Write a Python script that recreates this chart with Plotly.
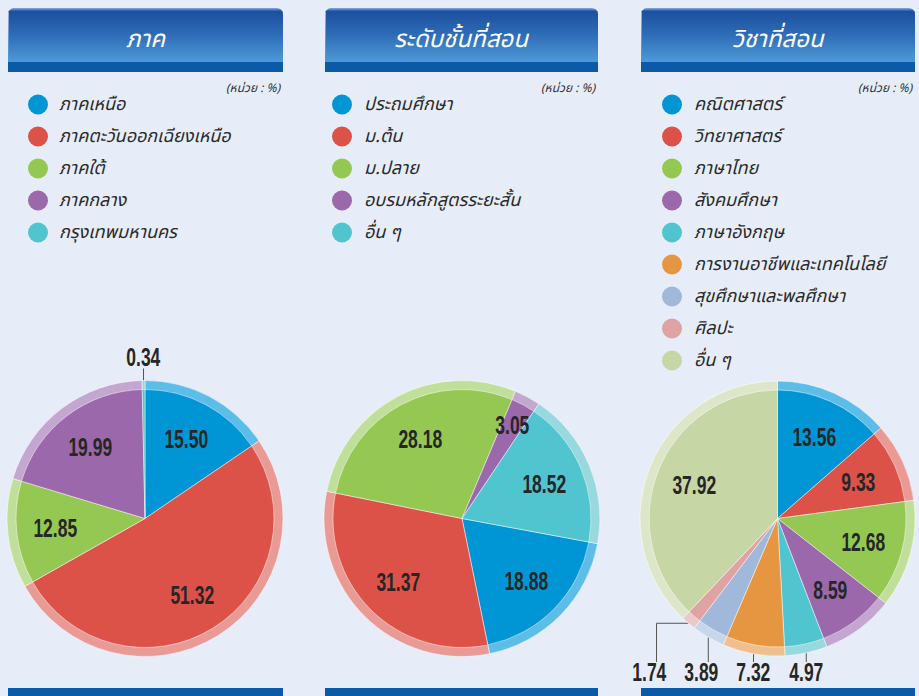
import math
import plotly.graph_objects as go

W, H = 919, 696

# ---------------- data ----------------
titles = ["ภาค", "ระดับชั้นที่สอน", "วิชาที่สอน"]
unit_label = "(หน่วย : %)"

region_labels = ["ภาคเหนือ", "ภาคตะวันออกเฉียงเหนือ", "ภาคใต้", "ภาคกลาง", "กรุงเทพมหานคร"]
region_values = [15.50, 51.32, 12.85, 19.99, 0.34]

level_labels = ["ประถมศึกษา", "ม.ต้น", "ม.ปลาย", "อบรมหลักสูตรระยะสั้น", "อื่น ๆ"]
level_values = [18.88, 31.37, 28.18, 3.05, 18.52]

subject_labels = ["คณิตศาสตร์", "วิทยาศาสตร์", "ภาษาไทย", "สังคมศึกษา", "ภาษาอังกฤษ",
                  "การงานอาชีพและเทคโนโลยี", "สุขศึกษาและพลศึกษา", "ศิลปะ", "อื่น ๆ"]
subject_values = [13.56, 9.33, 12.68, 8.59, 4.97, 7.32, 3.89, 1.74, 37.92]

# ---------------- styles ----------------
base_colors = ["#0096d6", "#dd5248", "#95c852", "#9b68ab", "#50c4cf",
               "#e69640", "#a0b8d9", "#dfa3a3", "#c6d6a4"]
ring_colors = ["#5dbde9", "#e99a95", "#bfdf9b", "#c3a7d0", "#98d8df",
               "#f0c08c", "#c7d6eb", "#ecc9c9", "#dde6c9"]
BG = "#e7edf8"
THAI_FONT = "Noto Sans Thai, Noto Sans Thai UI, Loma, Garuda, Noto Sans, sans-serif"
NUM_FONT = "Liberation Sans, Arial, sans-serif"
NUM_SIZE = 25

panels = [
    dict(title=titles[0], labels=region_labels, values=region_values,
         x0=8, x1=283, cx=145, cy=518.5, r=138, rot=0, dotx=38, textx=57, outside_below=1.0),
    dict(title=titles[1], labels=level_labels, values=level_values,
         x0=325, x1=598, cx=462, cy=518.5, r=138, rot=100.5, dotx=342, textx=362, outside_below=0.0),
    dict(title=titles[2], labels=subject_labels, values=subject_values,
         x0=641, x1=915, cx=777.5, cy=518.5, r=137.5, rot=0, dotx=672, textx=692, outside_below=7.5),
]

fig = go.Figure()
annotations = []
shapes = []


def header_path(x0, x1, y0, y1, rad):
    xs, ys = [x0], [y1]
    for k in range(0, 11):
        a = math.pi + k * (math.pi / 2) / 10
        xs.append(x0 + rad + rad * math.cos(a))
        ys.append(y0 + rad + rad * math.sin(a))
    for k in range(0, 11):
        a = 1.5 * math.pi + k * (math.pi / 2) / 10
        xs.append(x1 - rad + rad * math.cos(a))
        ys.append(y0 + rad + rad * math.sin(a))
    xs += [x1, x0]
    ys += [y1, y1]
    return xs, ys


def dom(cx, cy, r):
    return dict(x=[(cx - r) / W, (cx + r) / W], y=[1 - (cy + r) / H, 1 - (cy - r) / H])


num_font = dict(family=NUM_FONT, size=NUM_SIZE, color="#262626", weight="bold")

for p in panels:
    n = len(p["values"])
    # header banner with gradient
    hx, hy = header_path(p["x0"], p["x1"], 8, 63, 6)
    fig.add_trace(go.Scatter(
        x=hx, y=hy, mode="lines", fill="toself", line=dict(width=0),
        fillgradient=dict(type="vertical", start=8, stop=63,
                          colorscale=[[0, "#86ade0"], [0.06, "#1c4f9f"], [0.5, "#2f6db8"], [1, "#4e9cd8"]]),
        hoverinfo="skip", showlegend=False, xaxis="x", yaxis="y"))
    shapes.append(dict(type="rect", xref="x", yref="y", x0=p["x0"], x1=p["x1"], y0=62, y1=72,
                       fillcolor="#0a5aa8", line=dict(width=0), layer="above"))
    shapes.append(dict(type="rect", xref="x", yref="y", x0=p["x0"], x1=p["x1"], y0=688, y1=700,
                       fillcolor="#0a5aa8", line=dict(width=0), layer="above"))
    annotations.append(dict(x=(p["x0"] + p["x1"]) / 2, y=40, xref="x", yref="y", text=p["title"],
                            showarrow=False, font=dict(family=THAI_FONT, size=24, color="white", style="italic"),
                            xanchor="center", yanchor="middle"))
    annotations.append(dict(x=p["x1"], y=88, xref="x", yref="y", text=unit_label, showarrow=False,
                            font=dict(family=THAI_FONT, size=12, color="#333333", style="italic"),
                            xanchor="right", yanchor="middle"))
    # legend
    ly = [104.5 + 32 * i for i in range(n)]
    fig.add_trace(go.Scatter(x=[p["dotx"]] * n, y=ly, mode="markers",
                             marker=dict(size=20, color=base_colors[:n], line=dict(width=0)),
                             hoverinfo="skip", showlegend=False, xaxis="x", yaxis="y"))
    for i, lab in enumerate(p["labels"]):
        annotations.append(dict(x=p["textx"], y=ly[i], xref="x", yref="y", text=lab, showarrow=False,
                                font=dict(family=THAI_FONT, size=18, color="#2b2b2b", style="italic"),
                                xanchor="left", yanchor="middle"))
    # pies: lighter outer ring + main pie
    fig.add_trace(go.Pie(values=p["values"], labels=p["labels"], sort=False, direction="clockwise",
                         rotation=p["rot"], textinfo="none", hoverinfo="skip", showlegend=False,
                         marker=dict(colors=ring_colors[:n], line=dict(width=0.8, color="rgba(255,255,255,0.6)")),
                         domain=dom(p["cx"], p["cy"], p["r"])))
    fig.add_trace(go.Pie(values=p["values"], labels=p["labels"], sort=False, direction="clockwise",
                         rotation=p["rot"], textinfo="none", hoverinfo="label+value", showlegend=False,
                         marker=dict(colors=base_colors[:n], line=dict(width=0.8, color="rgba(255,255,255,0.6)")),
                         domain=dom(p["cx"], p["cy"], p["r"] - 9)))
    # value labels
    total = sum(p["values"])
    cum = 0.0
    outside = []
    for i, v in enumerate(p["values"]):
        mid = math.radians(p["rot"] + (cum + v / 2) / total * 360)
        cum += v
        txt = f"{v:.2f}"
        if v < p["outside_below"]:
            rx = p["cx"] + p["r"] * math.sin(mid)
            ry = p["cy"] - p["r"] * math.cos(mid)
            outside.append([rx, ry, txt])
        else:
            d = p["r"] * (0.77 if v < 5 else 0.65)
            annotations.append(dict(x=p["cx"] + d * math.sin(mid), y=p["cy"] - d * math.cos(mid),
                                    xref="x", yref="y", text=txt, showarrow=False, font=num_font,
                                    xanchor="center", yanchor="middle"))
    # outside labels: avoid overlap along x
    outside.sort(key=lambda t: -t[0])
    prev = None
    for o in outside:
        lx = o[0]
        if prev is not None and prev - lx < 52:
            lx = prev - 52
        prev = lx
        above = o[1] < p["cy"]
        ly_lab = p["cy"] - p["r"] - 24 if above else p["cy"] + p["r"] + 16
        ly_end = ly_lab + 12 if above else ly_lab - 10
        if abs(lx - o[0]) < 12:
            xs, ys = [o[0], o[0]], [o[1], ly_end]
        else:
            lx_line = lx + 7
            xs, ys = [o[0], lx_line, lx_line], [o[1], o[1], ly_end]
        fig.add_trace(go.Scatter(x=xs, y=ys, mode="lines", line=dict(color="#555555", width=1),
                                 hoverinfo="skip", showlegend=False, xaxis="x", yaxis="y"))
        annotations.append(dict(x=lx, y=ly_lab, xref="x", yref="y", text=o[2], showarrow=False,
                                font=num_font, xanchor="center", yanchor="middle"))

fig.update_layout(
    width=W, height=H, margin=dict(l=0, r=0, t=0, b=0),
    paper_bgcolor=BG, plot_bgcolor=BG,
    xaxis=dict(range=[0, W], visible=False, fixedrange=True, domain=[0, 1]),
    yaxis=dict(range=[H, 0], visible=False, fixedrange=True, domain=[0, 1]),
    annotations=annotations, shapes=shapes, showlegend=False,
)

# page without body margin; condensed look for the numeric labels
post_js = """
document.body.style.margin = '0';
document.querySelectorAll('text.annotation-text').forEach(function (t) {
  if (/^\\d+\\.\\d\\d$/.test(t.textContent.trim())) {
    t.style.transformBox = 'fill-box';
    t.style.transformOrigin = 'center';
    t.style.transform = 'scaleX(0.7)';
  }
});
"""
fig.write_html("out.html", post_script=post_js, config={"displayModeBar": False})
